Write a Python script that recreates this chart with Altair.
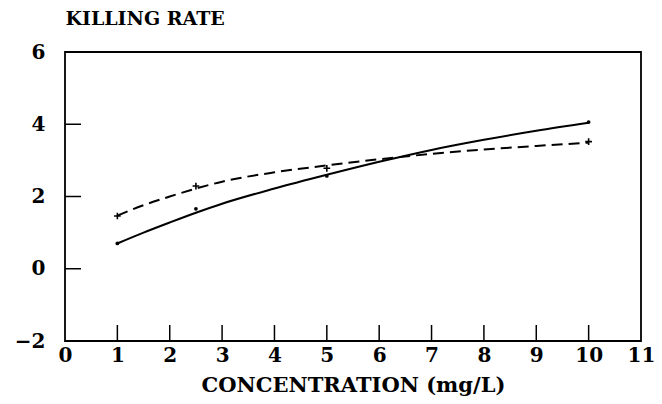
import altair as alt
import pandas as pd

# measured points
conc_pts = [1, 2.5, 5, 10]
solid_pts = [0.70, 1.66, 2.57, 4.06]
dashed_pts = [1.46, 2.29, 2.78, 3.52]

# fitted curves
curve_x = [1, 1.5, 2, 2.5, 3, 4, 5, 6, 7, 8, 9, 10]
solid_curve = [0.70, 1.00, 1.28, 1.55, 1.80, 2.22, 2.60, 2.96, 3.29, 3.57, 3.82, 4.04]
dashed_curve = [1.47, 1.76, 2.00, 2.22, 2.41, 2.67, 2.86, 3.03, 3.18, 3.30, 3.40, 3.49]

x_ticks = [1, 2, 3, 4, 5, 6, 7, 8, 9, 10]
y_ticks = [0, 2, 4]
x_labels = list(range(0, 12))
y_labels = [-2, 0, 2, 4, 6]

FONT = "DejaVu Serif"

solid_df = pd.DataFrame({"x": curve_x, "y": solid_curve})
dashed_df = pd.DataFrame({"x": curve_x, "y": dashed_curve})
spts_df = pd.DataFrame({"x": conc_pts, "y": solid_pts})
dpts_df = pd.DataFrame({"x": conc_pts, "y": dashed_pts})
xt_df = pd.DataFrame({"x": x_ticks})
yt_df = pd.DataFrame({"y": y_ticks})
frame_df = pd.DataFrame({"f": [0]})

xscale = alt.Scale(domain=[0, 11], nice=False, zero=False)
yscale = alt.Scale(domain=[-2, 6], nice=False, zero=False)

xaxis = alt.Axis(
    values=x_labels, format="d", ticks=False, domain=False, grid=False,
    labelFont=FONT, labelFontWeight="bold", labelFontSize=20, labelColor="black",
    labelPadding=4, labelBaseline="top", labelFlush=False,
    title="CONCENTRATION (mg/L)", titleFont=FONT, titleFontWeight="bold",
    titleFontSize=21, titleColor="black", titleY=44, titleBaseline="middle",
)
yaxis = alt.Axis(
    values=y_labels, format="d", ticks=False, domain=False, grid=False,
    labelFont=FONT, labelFontWeight="bold", labelFontSize=20, labelColor="black",
    labelPadding=20, labelFlush=False,
    title="KILLING RATE", titleFont=FONT, titleFontWeight="bold",
    titleFontSize=19, titleColor="black", titleAngle=0, titleAlign="left",
    titleX=0, titleY=-34, titleBaseline="middle",
)

solid = alt.Chart(solid_df).mark_line(
    color="black", strokeWidth=2, interpolate="monotone"
).encode(
    x=alt.X("x:Q", scale=xscale, axis=xaxis),
    y=alt.Y("y:Q", scale=yscale, axis=yaxis),
)
dashed = alt.Chart(dashed_df).mark_line(
    color="black", strokeWidth=2, strokeDash=[11, 6], interpolate="monotone"
).encode(x=alt.X("x:Q", scale=xscale), y=alt.Y("y:Q", scale=yscale))

spts = alt.Chart(spts_df).mark_point(
    filled=True, color="black", size=14, opacity=1
).encode(x=alt.X("x:Q", scale=xscale), y=alt.Y("y:Q", scale=yscale))

dpts = alt.Chart(dpts_df).mark_point(
    shape="M-1,0H1M0,-1V1", filled=False, color="black", size=45,
    strokeWidth=1.6, opacity=1
).encode(x=alt.X("x:Q", scale=xscale), y=alt.Y("y:Q", scale=yscale))

xt = alt.Chart(xt_df).mark_rule(color="black", strokeWidth=1.5).encode(
    x=alt.X("x:Q", scale=xscale), y=alt.value(289), y2=alt.value(273)
)
yt = alt.Chart(yt_df).mark_rule(color="black", strokeWidth=1.5).encode(
    y=alt.Y("y:Q", scale=yscale), x=alt.value(0), x2=alt.value(16)
)

frame = alt.Chart(frame_df).mark_rect(
    filled=False, stroke="black", strokeWidth=1.8, opacity=1
).encode(
    x=alt.value(0), x2=alt.value(576), y=alt.value(0), y2=alt.value(289)
)

chart = alt.layer(frame, xt, yt, dashed, solid, dpts, spts).properties(
    width=576, height=289,
    autosize=alt.AutoSizeParams(type="none"),
    padding={"left": 57, "top": 44, "right": 13, "bottom": 55},
).configure(
    background="white"
).configure_view(
    strokeWidth=0
)

chart.save("out.html", embed_options={"renderer": "svg", "actions": False})
